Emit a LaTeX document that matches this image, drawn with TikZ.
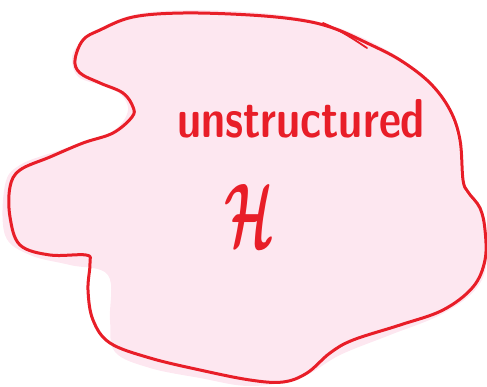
\documentclass[tikz,border=0pt]{standalone}
\usepackage{graphicx}
\usepackage{amsmath}
\definecolor{blobred}{RGB}{232,30,40}
\definecolor{blobpink}{RGB}{253,231,240}
\begin{document}
\begin{tikzpicture}[x=1pt,y=-1pt,
  outline/.style={draw=blobred,line width=3pt,line cap=round,line join=round},
  lbl/.style={text=blobred,inner sep=0pt,outer sep=0pt}]
\useasboundingbox (0,0) rectangle (487,386);
% fill
\fill[blobpink] plot[smooth cycle,tension=0.6] coordinates {
(78,45) (100,28) (150,12) (250,12) (330,25) (400,58) (440,95) (458,140) (462,185) (482,215) (487,260) (475,290) (440,315) (390,335) (340,355) (300,378) (250,386) (200,378) (150,368) (115,352) (110,320) (108,275) (70,265) (30,255) (5,235) (5,185) (20,165) (60,150) (110,133) (128,110) (115,90) (80,78) (72,60)};
% outline
\draw[outline] plot[smooth cycle,tension=0.6] coordinates {
(75,60) (83,40) (100,30) (133,17) (183,13) (250,15) (300,20) (333,28) (367,43) (400,60) (430,83) (450,110) (460,140) (463,180) (468,192) (480,208) (485,230) (485,260) (473,287) (443,310) (400,325) (353,340) (330,353) (307,373) (283,382) (250,380) (200,370) (150,358) (110,343) (93,320) (88,290) (90,263) (86,255) (50,255) (20,245) (10,217) (10,187) (20,170) (50,157) (83,143) (113,133) (132,117) (133,107) (123,93) (100,83) (80,73)};
\coordinate (s1) at (323,23);
\coordinate (s2) at (367,48);
\draw[blobred,line width=1.8pt,line cap=round] (s1) .. controls (340,30) and (355,40) .. (s2);
\node[lbl,anchor=base west] (t) at (177,137) {\resizebox{248pt}{38pt}{\sffamily\bfseries unstructured}};
\node[lbl,anchor=south west] (h) at (224,246) {\resizebox{50pt}{62pt}{$\boldsymbol{\mathcal{H}}$}};
\end{tikzpicture}
\end{document}
